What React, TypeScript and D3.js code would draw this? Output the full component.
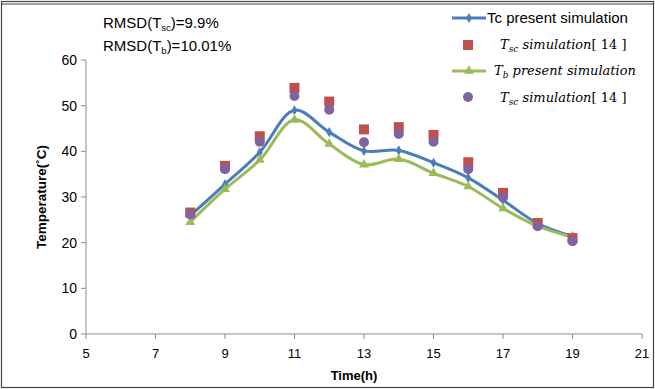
import React from "react";
import * as d3 from "d3";

// Hours of the day
const hours = [8, 9, 10, 11, 12, 13, 14, 15, 16, 17, 18, 19];
// Tc, present simulation (°C)
const tcPresent = [25.9, 32.8, 39.8, 49.0, 44.2, 40.1, 40.2, 37.5, 34.2, 29.3, 24.2, 21.4];
// Tb, present simulation (°C)
const tbPresent = [24.5, 31.7, 38.1, 46.9, 41.6, 37.1, 38.3, 35.2, 32.3, 27.5, 23.6, 21.2];
// Tsc, simulation [14] – squares
const tscSquares = [26.6, 36.8, 43.3, 53.9, 50.9, 44.8, 45.3, 43.6, 37.6, 30.9, 24.3, 21.0];
// Tsc, simulation [14] – circles
const tscCircles = [26.2, 36.1, 42.1, 52.1, 49.1, 42.0, 43.8, 42.1, 36.1, 29.9, 23.6, 20.3];

const xTicks = [5, 7, 9, 11, 13, 15, 17, 19, 21];
const yTicks = [0, 10, 20, 30, 40, 50, 60];

const W = 655;
const H = 389;
const BLUE = "#4a7ebb";
const RED = "#c0504d";
const GREEN = "#9bbb59";
const PURPLE = "#8064a2";
const AXIS = "#8c8c8c";
const SANS = "'Liberation Sans', Arial, sans-serif";
const SERIF = "'DejaVu Serif', 'Liberation Serif', serif";

export default function App() {
  const x = d3.scaleLinear().domain([5, 21]).range([86, 642]);
  const y = d3.scaleLinear().domain([0, 60]).range([334, 60]);

  const line = d3
    .line<number>()
    .x((_, i) => x(hours[i]))
    .y((d) => y(d))
    .curve(d3.curveCatmullRom.alpha(0.5));

  const diamond = d3.symbol(d3.symbolDiamond, 30)()!;
  const triangle = d3.symbol(d3.symbolTriangle, 42)()!;

  return (
    <svg width={W} height={H} style={{ position: "absolute", left: 0, top: 0 }}>
      <rect x={0} y={0} width={W} height={H} fill="#fff" />
      <rect x={1.5} y={1.5} width={W - 3} height={H - 3} fill="none" stroke="#444" strokeWidth={1.2} />
      <line x1={1.5} x2={W - 1.5} y1={4} y2={4} stroke="#444" strokeWidth={1} />

      {/* axes */}
      <line x1={x(5)} x2={x(5)} y1={y(60)} y2={y(0)} stroke={AXIS} strokeWidth={1} />
      <line x1={x(5)} x2={x(21)} y1={y(0)} y2={y(0)} stroke={AXIS} strokeWidth={1} />
      {yTicks.map((t) => (
        <g key={"y" + t}>
          <line x1={x(5) - 5} x2={x(5)} y1={y(t)} y2={y(t)} stroke={AXIS} />
          <text x={x(5) - 9} y={y(t) + 5} textAnchor="end" fontFamily={SANS} fontSize={14} fill="#000">
            {t}
          </text>
        </g>
      ))}
      {xTicks.map((t) => (
        <g key={"x" + t}>
          <line x1={x(t)} x2={x(t)} y1={y(0)} y2={y(0) + 5} stroke={AXIS} />
          <text x={x(t)} y={y(0) + 24} textAnchor="middle" fontFamily={SANS} fontSize={13} fill="#000">
            {t}
          </text>
        </g>
      ))}

      <text x={354} y={380} textAnchor="middle" fontFamily={SANS} fontSize={13} fontWeight="bold">
        Time(h)
      </text>
      <text
        transform={`translate(46,${y(30)}) rotate(-90)`}
        textAnchor="middle"
        fontFamily={SANS}
        fontSize={13.5}
        fontWeight="bold"
      >
        Temperature(˚C)
      </text>

      {/* series lines */}
      <path d={line(tcPresent)!} fill="none" stroke={BLUE} strokeWidth={3} />
      <path d={line(tbPresent)!} fill="none" stroke={GREEN} strokeWidth={3} />
      {tcPresent.map((v, i) => (
        <path key={"d" + i} d={diamond} transform={`translate(${x(hours[i])},${y(v)})`} fill={BLUE} />
      ))}
      {tbPresent.map((v, i) => (
        <path key={"t" + i} d={triangle} transform={`translate(${x(hours[i])},${y(v)})`} fill={GREEN} />
      ))}

      {/* reference points */}
      {tscSquares.map((v, i) => (
        <rect key={"s" + i} x={x(hours[i]) - 5} y={y(v) - 5} width={10} height={10} fill={RED} />
      ))}
      {tscCircles.map((v, i) => (
        <circle key={"c" + i} cx={x(hours[i])} cy={y(v)} r={5} fill={PURPLE} />
      ))}

      {/* RMSD annotation */}
      <text x={103} y={28} fontFamily={SANS} fontSize={15} fill="#000">
        RMSD(T<tspan fontSize={9.5} dy={3}>sc</tspan>
        <tspan dy={-3}>)=9.9%</tspan>
      </text>
      <text x={103} y={51} fontFamily={SANS} fontSize={15} fill="#000">
        RMSD(T<tspan fontSize={9.5} dy={3}>b</tspan>
        <tspan dy={-3}>)=10.01%</tspan>
      </text>

      {/* legend */}
      <line x1={452} x2={486} y1={18} y2={18} stroke={BLUE} strokeWidth={3} />
      <path d={diamond} transform="translate(469,18)" fill={BLUE} />
      <text x={487} y={23} fontFamily={SANS} fontSize={15}>
        Tc present simulation
      </text>

      <rect x={463} y={40} width={10} height={10} fill={RED} />
      <text x={500} y={49} fontFamily={SERIF} fontSize={13} fontStyle="italic">
        T<tspan fontSize={9} dy={3}>sc</tspan>
        <tspan dy={-3}> simulation</tspan>
        <tspan fontStyle="normal">[ 14 ]</tspan>
      </text>

      <line x1={452} x2={486} y1={71} y2={71} stroke={GREEN} strokeWidth={3} />
      <path d={triangle} transform="translate(469,71)" fill={GREEN} />
      <text x={494} y={75} fontFamily={SERIF} fontSize={13} fontStyle="italic">
        T<tspan fontSize={9} dy={3}>b</tspan>
        <tspan dy={-3}> present simulation</tspan>
      </text>

      <circle cx={468} cy={97} r={5} fill={PURPLE} />
      <text x={500} y={102} fontFamily={SERIF} fontSize={13} fontStyle="italic">
        T<tspan fontSize={9} dy={3}>sc</tspan>
        <tspan dy={-3}> simulation</tspan>
        <tspan fontStyle="normal">[ 14 ]</tspan>
      </text>
    </svg>
  );
}
